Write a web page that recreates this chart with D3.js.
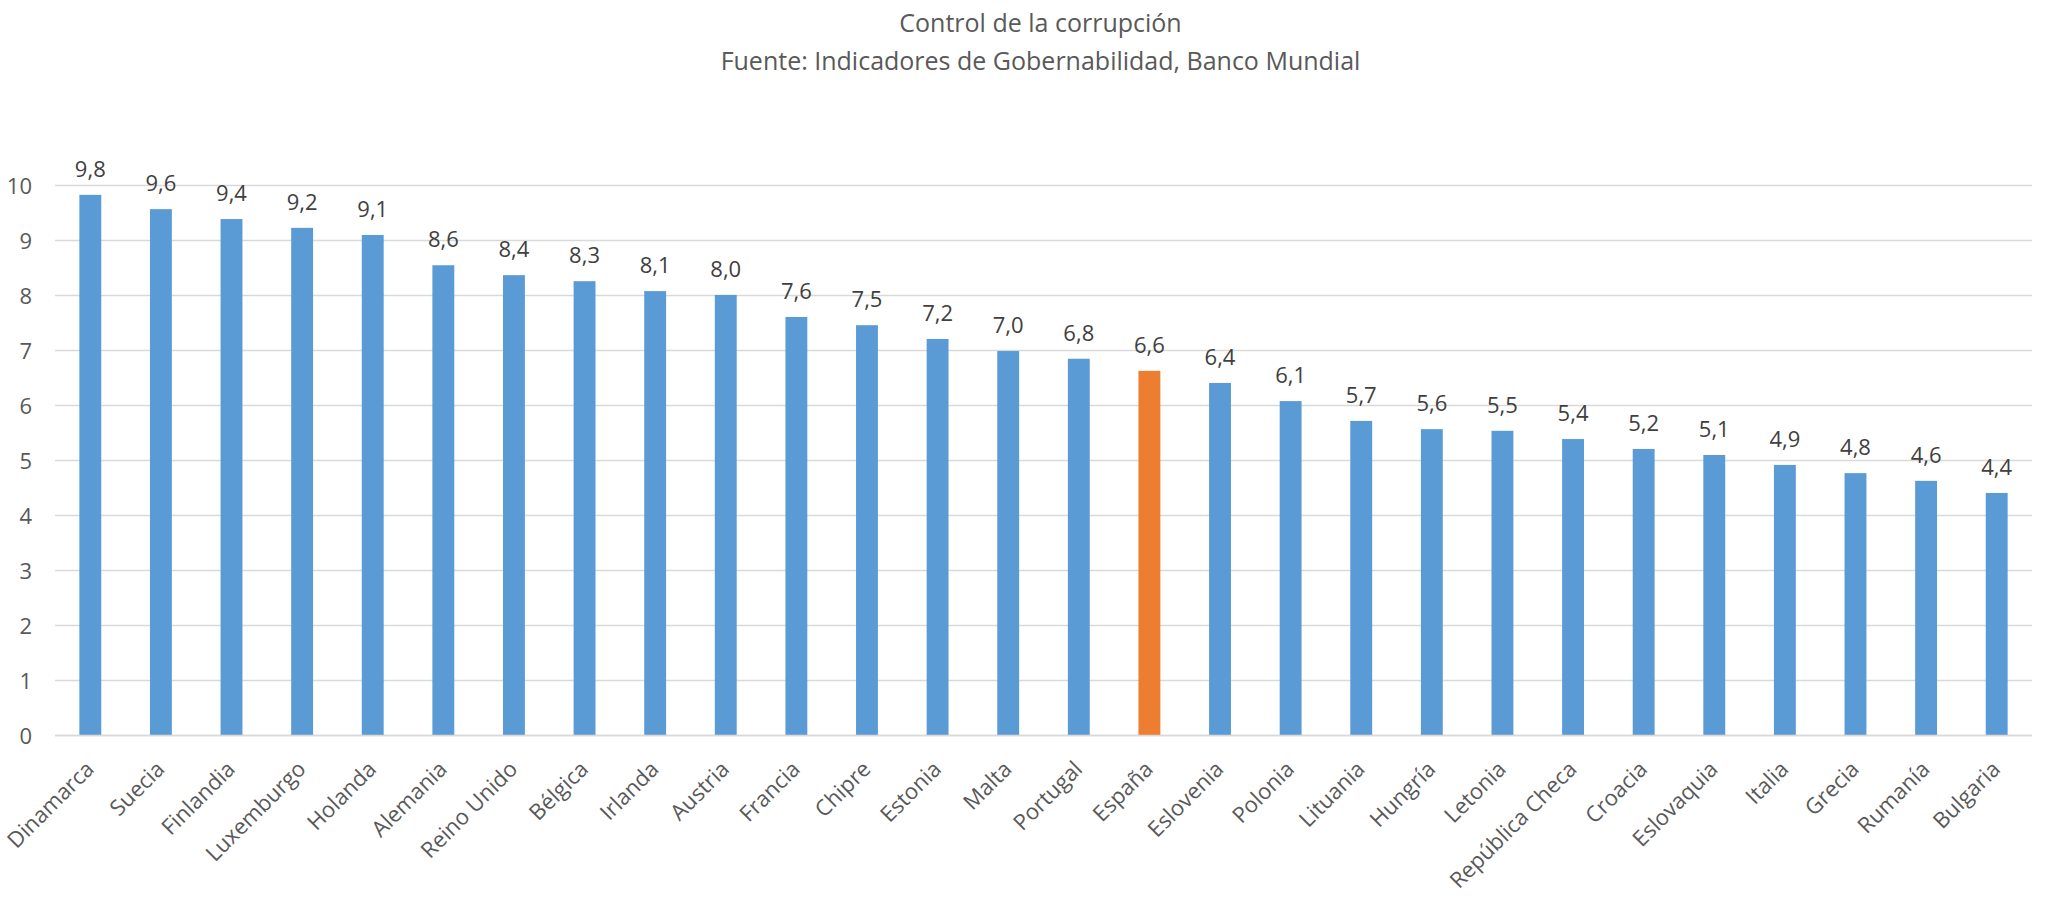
<!DOCTYPE html>
<html>
<head>
<meta charset="utf-8">
<script src="https://cdn.jsdelivr.net/npm/d3@7"></script>
<style>
  html, body { margin: 0; padding: 0; background: #ffffff; }
  svg { display: block; font-family: "Open Sans", "DejaVu Sans", sans-serif; }
</style>
</head>
<body>
<svg id="chart" width="2049" height="908"></svg>
<script>
const countries = ["Dinamarca","Suecia","Finlandia","Luxemburgo","Holanda","Alemania","Reino Unido","Bélgica","Irlanda","Austria","Francia","Chipre","Estonia","Malta","Portugal","España","Eslovenia","Polonia","Lituania","Hungría","Letonia","República Checa","Croacia","Eslovaquia","Italia","Grecia","Rumanía","Bulgaria"];
const values = [9.83,9.57,9.39,9.23,9.10,8.55,8.37,8.26,8.08,8.01,7.61,7.46,7.21,6.99,6.85,6.63,6.41,6.08,5.72,5.57,5.54,5.39,5.21,5.10,4.92,4.77,4.63,4.41];
const yTicks = [0,1,2,3,4,5,6,7,8,9,10];
const highlight = "España";
const titleLines = ["Control de la corrupción", "Fuente: Indicadores de Gobernabilidad, Banco Mundial"];

(function () {
const svg = d3.select("#chart");
const W = 2049;
const mLeft = 55, mRight = 2032, mTop = 185.5, mBottom = 735.5;

const x = d3.scaleBand().domain(countries).range([mLeft, mRight]).paddingInner(0.69).paddingOuter(0.345);
const y = d3.scaleLinear().domain([0, 10]).range([mBottom, mTop]);

// title
svg.append("g").selectAll("text").data(titleLines).join("text")
  .attr("x", W / 2 + 16)
  .attr("y", (d, i) => i === 0 ? 32 : 70)
  .attr("text-anchor", "middle")
  .attr("fill", "#595959")
  .attr("font-size", 25)
  .text(d => d);

// gridlines
svg.append("g").selectAll("line").data(yTicks).join("line")
  .attr("x1", mLeft).attr("x2", mRight)
  .attr("y1", d => y(d)).attr("y2", d => y(d))
  .attr("stroke", "#d9d9d9").attr("stroke-width", 1.5);

// y axis
const yAxis = d3.axisLeft(y).tickValues(yTicks).tickSize(0).tickPadding(23).tickFormat(d3.format("d"));
const ya = svg.append("g").attr("transform", `translate(${mLeft},0)`).call(yAxis);
ya.select(".domain").remove();
ya.selectAll("text").attr("fill", "#595959").attr("font-size", 22).attr("font-family", "Open Sans").attr("dy", "0.35em");

// bars
const data = countries.map((c, i) => ({ c, v: values[i] }));
svg.append("g").selectAll("rect").data(data).join("rect")
  .attr("x", d => x(d.c))
  .attr("width", x.bandwidth())
  .attr("y", d => y(d.v))
  .attr("height", d => y(0) - y(d.v))
  .attr("fill", d => d.c === highlight ? "#ED7D31" : "#5B9BD5");

// zero line
svg.append("line").attr("x1", mLeft).attr("x2", mRight).attr("y1", y(0)).attr("y2", y(0))
  .attr("stroke", "#d9d9d9").attr("stroke-width", 1.5);

// data labels
const fmt = v => d3.format(".1f")(v).replace(".", ",");
svg.append("g").selectAll("text").data(data).join("text")
  .attr("x", d => x(d.c) + x.bandwidth() / 2)
  .attr("y", d => y(d.v) - 18)
  .attr("text-anchor", "middle")
  .attr("fill", "#404040")
  .attr("font-size", 22)
  .text(d => fmt(d.v));

// x labels
svg.append("g").selectAll("text").data(countries).join("text")
  .attr("transform", d => `translate(${x(d) + x.bandwidth() / 2 + 5},${mBottom + 35}) rotate(-45)`)
  .attr("text-anchor", "end")
  .attr("fill", "#595959")
  .attr("font-size", 22)
  .text(d => d);
})();
</script>
</body>
</html>
